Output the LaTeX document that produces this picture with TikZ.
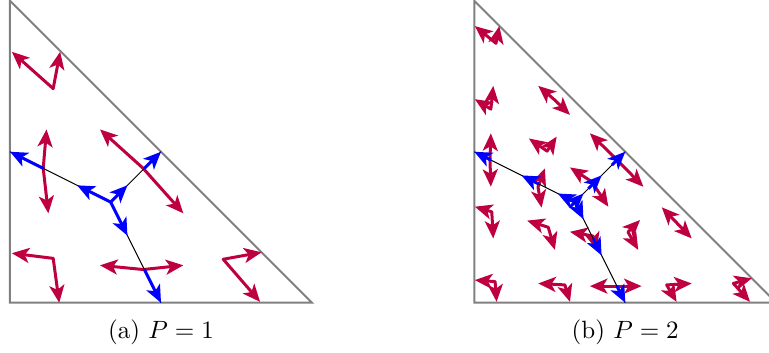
\documentclass[tikz,border=0pt]{standalone}
\usepackage{amsmath,amssymb}
\usepackage{tikz}
\usetikzlibrary{arrows.meta,calc}

\begin{document}
\begin{tikzpicture}[
    x=120.8pt,
    y=120.8pt,
    tri/.style={draw=gray,thick},
    skel/.style={draw=black,thin},
    redvec/.style={{Stealth[length=7pt,width=6pt,inset=1.8pt]}-{Stealth[length=7pt,width=6pt,inset=1.8pt]},draw=purple,line width=1.2pt,line join=round},
    bluevec/.style={-{Stealth[length=7pt,width=6pt,inset=1.8pt]},draw=blue,line width=1.2pt}
]
    \useasboundingbox (-4pt,-20.1pt) rectangle (303.6pt,121.1pt);

    % P = 1
    \begin{scope}
        \draw[tri] (0,1) -- (0,0) -- (1,0) -- cycle;
        \coordinate (ca) at (1/3,1/3);
        \coordinate (ma1) at (0,0.5);
        \coordinate (ma2) at (0.5,0.5);
        \coordinate (ma3) at (0.5,0);

        \draw[redvec] (0.006,0.831) -- (0.143,0.709) -- (0.166,0.831);
        \draw[redvec] (0.121,0.574) -- (0.110,0.445) -- (0.127,0.296);
        \draw[redvec] (0.298,0.574) -- (0.441,0.445) -- (0.574,0.296);
        \draw[redvec] (0.006,0.164) -- (0.143,0.147) -- (0.163,0.000);
        \draw[redvec] (0.298,0.124) -- (0.441,0.110) -- (0.574,0.124);
        \draw[redvec] (0.833,0.167) -- (0.706,0.144) -- (0.828,0.003);

        \foreach \m in {ma1,ma2,ma3} {
            \draw[skel] (ca) -- (\m);
            \draw[bluevec] (ca) -- ($(ca)!1/3!(\m)$);
            \draw[bluevec] ($(ca)!2/3!(\m)$) -- (\m);
        }

        \node[anchor=base] (capa) at (0.5,-0.12) {(a) $P=1$};
    \end{scope}

    % P = 2
    \begin{scope}[xshift=185.7pt]
        \draw[tri] (0,1) -- (0,0) -- (1,0) -- cycle;
        \coordinate (cb) at (1/3,1/3);
        \coordinate (mb1) at (0,0.5);
        \coordinate (mb2) at (0.5,0.5);
        \coordinate (mb3) at (0.5,0);

        \draw[redvec] (0.002,0.916) -- (0.072,0.859) -- (0.083,0.916);
        \draw[redvec] (0.002,0.674) -- (0.055,0.641) -- (0.063,0.718);
        \draw[redvec] (0.212,0.718) -- (0.267,0.671) -- (0.317,0.622);
        \draw[redvec] (0.055,0.561) -- (0.052,0.473) -- (0.055,0.384);
        \draw[redvec] (0.181,0.544) -- (0.241,0.502) -- (0.273,0.550);
        \draw[redvec] (0.383,0.561) -- (0.473,0.473) -- (0.560,0.384);
        \draw[redvec] (0.234,0.445) -- (0.211,0.383) -- (0.223,0.315);
        \draw[redvec] (0.317,0.448) -- (0.389,0.401) -- (0.444,0.318);
        \draw[redvec] (0.002,0.318) -- (0.058,0.301) -- (0.063,0.213);
        \draw[redvec] (0.175,0.272) -- (0.245,0.250) -- (0.267,0.175);
        \draw[redvec] (0.317,0.235) -- (0.393,0.221) -- (0.406,0.175);
        \draw[redvec] (0.549,0.274) -- (0.509,0.234) -- (0.543,0.175);
        \draw[redvec] (0.621,0.316) -- (0.670,0.265) -- (0.720,0.213);
        \draw[redvec] (0.002,0.075) -- (0.069,0.070) -- (0.074,0.003);
        \draw[redvec] (0.212,0.064) -- (0.300,0.059) -- (0.317,0.003);
        \draw[redvec] (0.383,0.055) -- (0.472,0.055) -- (0.554,0.055);
        \draw[redvec] (0.720,0.064) -- (0.637,0.059) -- (0.670,0.003);
        \draw[redvec] (0.919,0.081) -- (0.858,0.064) -- (0.913,0.003);

        \foreach \m in {mb1,mb2,mb3} {
            \draw[skel] (cb) -- (\m);
            \foreach \t in {0.17,0.53,1} {
                \coordinate (tip) at ($(cb)!\t!(\m)$);
                \draw[bluevec] ($(tip)!7.5pt!(cb)$) -- (tip);
            }
        }

        \node[anchor=base] (capb) at (0.5,-0.12) {(b) $P=2$};
    \end{scope}
\end{tikzpicture}
\end{document}
